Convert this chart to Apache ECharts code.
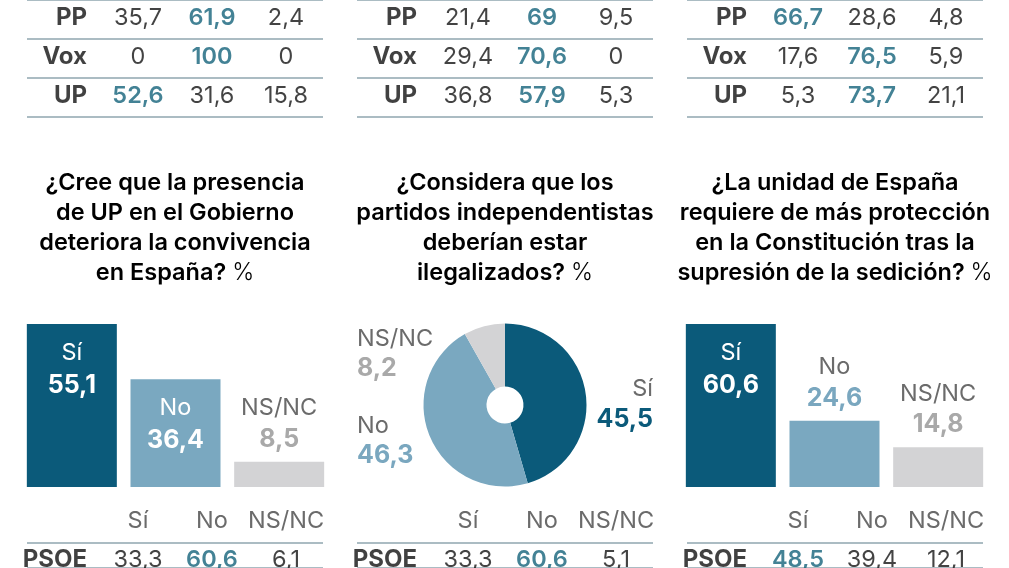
<!DOCTYPE html>
<html><head><meta charset="utf-8">
<script src="https://cdn.jsdelivr.net/npm/echarts@6/dist/echarts.min.js"></script>
<style>html,body{margin:0;padding:0;background:#fff}#c{width:1009px;height:568px}</style>
</head><body><div id="c"></div>
<script>
// ---------- DATA ----------
const answers = ['Sí', 'No', 'NS/NC'];
const parties = ['PP', 'Vox', 'UP'];
const prevQ1ByParty = [[35.7, 61.9, 2.4], [0, 100, 0], [52.6, 31.6, 15.8]];
const prevQ2ByParty = [[21.4, 69, 9.5], [29.4, 70.6, 0], [36.8, 57.9, 5.3]];
const prevQ3ByParty = [[66.7, 28.6, 4.8], [17.6, 76.5, 5.9], [5.3, 73.7, 21.1]];
const q1Total = [55.1, 36.4, 8.5];
const q2Total = [45.5, 46.3, 8.2];
const q3Total = [60.6, 24.6, 14.8];
const psoeRow = ['PSOE'];
const q1Psoe = [[33.3, 60.6, 6.1]];
const q2Psoe = [[33.3, 60.6, 5.1]];
const q3Psoe = [[48.5, 39.4, 12.1]];
const titles = [
  ['¿Cree que la presencia', 'de UP en el Gobierno', 'deteriora la convivencia', 'en España?'],
  ['¿Considera que los', 'partidos independentistas', 'deberían estar', 'ilegalizados?'],
  ['¿La unidad de España', 'requiere de más protección', 'en la Constitución tras la', 'supresión de la sedición?']
];

// ---------- STYLE ----------
const FONT = 'Inter';
const DARK = '#0b5a7a', LIGHT = '#7aa8c0', GREY = '#d3d3d5';
const TEAL_TXT = '#14637b';
const barColors = [DARK, LIGHT, GREY];
const valueColors = [DARK, '#7aa7bf', '#a9a9a9'];
const tableLeft = [27, 357, 687];
const titleCenter = [175, 505, 835];
const fmt = v => String(v).replace('.', ',');

const grids = [], xAxes = [], yAxes = [], series = [];

function addTable(left, top, height, rows, values, showHeader, dy) {
  const gi = grids.length;
  grids.push({left: left, top: top, width: 296, height: height});
  xAxes.push({type: 'category', gridIndex: gi, data: [''].concat(answers), position: 'top',
    axisLine: {show: false}, axisTick: {show: false}, splitLine: {show: false},
    axisLabel: {show: showHeader, interval: 0, color: '#6b6b6b', fontSize: 23.5, fontFamily: FONT, margin: 10}});
  yAxes.push({type: 'category', gridIndex: gi, data: rows, inverse: true,
    axisLine: {show: false}, axisTick: {show: false}, axisLabel: {show: false},
    splitLine: {show: true, interval: 0, lineStyle: {color: '#8fa6af', width: 1.5}}});
  // party names
  series.push({type: 'scatter', xAxisIndex: gi, yAxisIndex: gi, symbolSize: 0, silent: true,
    data: rows.map((p, r) => ({name: p, value: [0, r]})),
    label: {show: true, position: 'inside', formatter: '{b}', align: 'right', offset: [23, dy],
      color: '#111', fontSize: 24, fontWeight: 'bold', fontFamily: FONT}});
  // values
  const cells = [];
  rows.forEach((p, r) => {
    const mx = Math.max.apply(null, values[r]);
    values[r].forEach((v, c) => {
      cells.push({value: [c + 1, r, v], label: {color: v === mx ? TEAL_TXT : '#141414', fontWeight: v === mx ? 600 : 400}});
    });
  });
  series.push({type: 'scatter', xAxisIndex: gi, yAxisIndex: gi, symbolSize: 0, silent: true,
    data: cells,
    label: {show: true, position: 'inside', offset: [0, dy], fontSize: 23.5, fontFamily: FONT,
      formatter: p => fmt(p.value[2])}});
}

function addBars(left, vals) {
  const gi = grids.length;
  const mx = Math.max.apply(null, vals);
  grids.push({left: left, top: 324, width: 311, height: 163});
  xAxes.push({type: 'category', gridIndex: gi, data: answers, show: false});
  yAxes.push({type: 'value', gridIndex: gi, min: 0, max: 'dataMax', show: false});
  series.push({type: 'bar', xAxisIndex: gi, yAxisIndex: gi, barWidth: 90, silent: true,
    data: vals.map((v, i) => {
      const inside = v / mx > 0.5;
      return {
        value: v, itemStyle: {color: barColors[i]},
        label: {show: true, position: inside ? 'insideTop' : 'top', distance: inside ? 13 : 7,
          formatter: '{n|' + answers[i] + '}\n{v|' + fmt(v) + '}',
          rich: {
            n: {color: inside ? '#fff' : '#6b6b6b', fontSize: 23.5, lineHeight: inside ? 32 : 31, fontFamily: FONT},
            v: {color: inside ? '#fff' : valueColors[i], fontSize: 25, fontWeight: 'bold', lineHeight: inside ? 32 : 31, fontFamily: FONT}
          }}
      };
    })});
}

addTable(tableLeft[0], -5, 122, parties, prevQ1ByParty, false, -2);
addTable(tableLeft[1], -5, 122, parties, prevQ2ByParty, false, -2);
addTable(tableLeft[2], -5, 122, parties, prevQ3ByParty, false, -2);
addTable(tableLeft[0], 543, 32, psoeRow, q1Psoe, true, 4);
addTable(tableLeft[1], 543, 32, psoeRow, q2Psoe, true, 4);
addTable(tableLeft[2], 543, 32, psoeRow, q3Psoe, true, 4);
addBars(20, q1Total);
addBars(679, q3Total);

const pieShift = [12, 0, 37];
series.push({type: 'pie', left: 350, top: 300, width: 310, height: 210, center: ['50%', '50%'],
  radius: [18.5, 81.5], startAngle: 90, clockwise: true, avoidLabelOverlap: false, silent: true,
  labelLine: {show: false, length: 10, length2: 0},
  labelLayout: p => ({dy: pieShift[p.dataIndex]}),
  label: {show: true, position: 'outside', alignTo: 'edge', edgeDistance: 7},
  data: q2Total.map((v, i) => ({
    name: answers[i], value: v, itemStyle: {color: barColors[i]},
    label: {formatter: '{n|' + answers[i] + '}\n{v|' + fmt(v) + '}',
      rich: {
        n: {color: '#6b6b6b', fontSize: 23.5, lineHeight: 30, fontFamily: FONT},
        v: {color: valueColors[i], fontSize: 25, fontWeight: 'bold', lineHeight: 30, fontFamily: FONT}
      }}
  }))});

const graphic = titles.map((lines, k) => ({
  type: 'text', x: titleCenter[k], y: 168, silent: true,
  style: {
    text: lines.map((l, j) => j === lines.length - 1 ? '{t|' + l + ' }{p|%}' : '{t|' + l + '}').join('\n'),
    align: 'center', verticalAlign: 'top',
    rich: {
      t: {fontSize: 23.5, fontWeight: 600, color: '#151515', lineHeight: 30, fontFamily: FONT},
      p: {fontSize: 23.5, fontWeight: 300, color: '#9a9a9a', lineHeight: 30, fontFamily: FONT}
    }
  }
}));

const chart = echarts.init(document.getElementById('c'), null, {renderer: 'canvas'});
chart.setOption({animation: false, grid: grids, xAxis: xAxes, yAxis: yAxes, series: series, graphic: graphic});
</script>
</body></html>
